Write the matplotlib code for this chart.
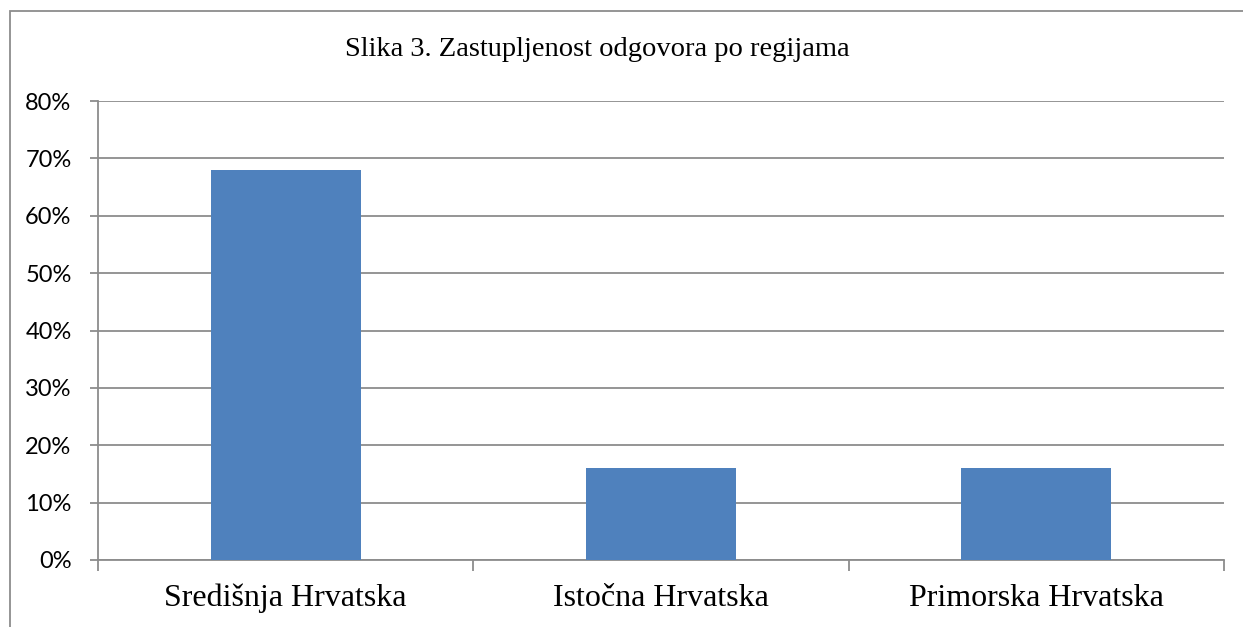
import matplotlib
matplotlib.use("Agg")
import matplotlib.pyplot as plt
from matplotlib.patches import Rectangle
from matplotlib.ticker import FuncFormatter, FixedLocator

# podaci
regije = ["Središnja Hrvatska", "Istočna Hrvatska", "Primorska Hrvatska"]
udio = [0.68, 0.16, 0.16]
y_ticks = [0.0, 0.1, 0.2, 0.3, 0.4, 0.5, 0.6, 0.7, 0.8]
naslov = "Slika 3. Zastupljenost odgovora po regijama"

W, H = 1243, 627
GRAY = "#8c8c8c"

fig = plt.figure(figsize=(W / 100, H / 100), dpi=100)
ax = fig.add_axes([98 / W, 1 - 560 / H, (1224 - 98) / W, (560 - 101) / H])

# okvir grafikona (odrezan desno i dolje)
fig.patches.append(Rectangle((10 / W, -0.1), 1.2, 1 - 11 / H + 0.1,
                             transform=fig.transFigure, fill=False,
                             edgecolor=GRAY, linewidth=1.3))

x = list(range(len(regije)))
ax.bar(x, udio, width=0.4, color="#4F81BD", zorder=3)

ax.set_xlim(-0.5, len(regije) - 0.5)
ax.set_ylim(0, 0.8)
ax.set_yticks(y_ticks)
ax.yaxis.set_major_formatter(FuncFormatter(lambda v, p: "%d%%" % round(v * 100)))
ax.grid(axis="y", color=GRAY, linewidth=1.3, zorder=0)

ax.set_xticks(x)
ax.set_xticklabels(regije, family="Liberation Serif", fontsize=23)
ax.xaxis.set_minor_locator(FixedLocator([-0.5, 0.5, 1.5, 2.5]))
ax.tick_params(axis="x", which="major", length=0, pad=17)
ax.tick_params(axis="x", which="minor", length=8, color=GRAY, width=1.3)
ax.tick_params(axis="y", length=6, color=GRAY, width=1.3, pad=13)
for lab in ax.get_yticklabels():
    lab.set_family("Lato")
    lab.set_fontsize(17)

for s in ["top", "right"]:
    ax.spines[s].set_visible(False)
for s in ["left", "bottom"]:
    ax.spines[s].set_color(GRAY)
    ax.spines[s].set_linewidth(1.3)

fig.text(597 / W, 1 - 50 / H, naslov, family="Liberation Serif", fontsize=20.5,
         ha="center", va="center")

fig.savefig("out.png", dpi=100)
